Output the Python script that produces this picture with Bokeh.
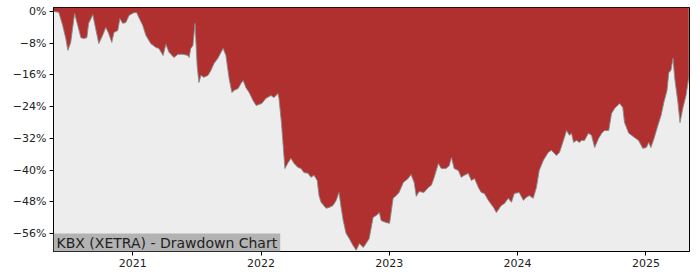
import pandas as pd
from bokeh.plotting import figure
from bokeh.models import Range1d, FixedTicker, CustomJSTickFormatter, DatetimeTickFormatter, Label
from bokeh.embed import file_html
from bokeh.resources import INLINE

title_text = "KBX (XETRA) - Drawdown Chart"

dates = [
    "2020-05-21", "2020-06-04", "2020-06-15", "2020-06-24", "2020-06-30", "2020-07-08", "2020-07-19",
    "2020-07-28", "2020-08-06", "2020-08-14", "2020-08-23", "2020-08-28", "2020-09-09", "2020-09-17",
    "2020-09-26", "2020-10-07", "2020-10-16", "2020-10-24", "2020-11-02", "2020-11-08", "2020-11-19",
    "2020-11-25", "2020-12-03", "2020-12-12", "2020-12-21",
    "2021-01-04", "2021-01-12", "2021-01-18", "2021-01-29", "2021-02-07", "2021-02-21", "2021-03-08",
    "2021-03-16", "2021-03-28", "2021-04-05", "2021-04-14", "2021-04-28", "2021-05-09", "2021-05-24",
    "2021-06-07", "2021-06-10", "2021-06-15", "2021-06-21", "2021-06-27", "2021-07-03", "2021-07-08",
    "2021-07-14", "2021-07-22", "2021-08-03", "2021-08-11", "2021-08-20", "2021-08-31", "2021-09-15",
    "2021-09-23", "2021-10-02", "2021-10-10", "2021-10-16", "2021-10-28", "2021-11-05", "2021-11-11",
    "2021-11-19", "2021-11-28", "2021-12-09", "2021-12-18",
    "2022-01-03", "2022-01-15", "2022-01-29", "2022-02-07", "2022-02-18", "2022-02-21", "2022-02-28",
    "2022-03-05", "2022-03-10", "2022-03-19", "2022-03-27", "2022-04-05", "2022-04-16", "2022-04-25",
    "2022-05-03", "2022-05-15", "2022-05-23", "2022-06-01", "2022-06-10", "2022-06-15", "2022-06-21",
    "2022-07-05", "2022-07-14", "2022-07-25", "2022-08-03", "2022-08-11", "2022-08-17", "2022-08-23",
    "2022-08-31", "2022-09-09", "2022-09-20", "2022-09-29", "2022-10-08", "2022-10-19", "2022-10-27",
    "2022-11-05", "2022-11-16", "2022-11-25", "2022-12-04", "2022-12-09", "2022-12-23",
    "2023-01-02", "2023-01-12", "2023-01-21", "2023-01-29", "2023-02-10", "2023-02-24", "2023-03-04",
    "2023-03-13", "2023-03-19", "2023-03-27", "2023-04-10", "2023-04-22", "2023-05-01", "2023-05-09",
    "2023-05-21", "2023-05-29", "2023-06-12", "2023-06-21", "2023-06-27", "2023-07-05", "2023-07-17",
    "2023-07-25", "2023-08-03", "2023-08-14", "2023-08-23", "2023-09-01", "2023-09-12", "2023-09-20",
    "2023-09-29", "2023-10-10", "2023-10-25", "2023-11-02", "2023-11-16", "2023-11-25", "2023-12-06",
    "2023-12-15", "2023-12-23",
    "2024-01-06", "2024-01-18", "2024-01-26", "2024-02-04", "2024-02-15", "2024-02-24", "2024-03-03",
    "2024-03-15", "2024-03-29", "2024-04-07", "2024-04-21", "2024-04-30", "2024-05-11", "2024-05-20",
    "2024-05-28", "2024-06-03", "2024-06-09", "2024-06-17", "2024-06-26", "2024-07-01", "2024-07-10",
    "2024-07-21", "2024-07-30", "2024-08-08", "2024-08-19", "2024-08-28", "2024-09-05", "2024-09-17",
    "2024-09-25", "2024-10-04", "2024-10-18", "2024-10-27", "2024-11-01", "2024-11-13", "2024-11-21",
    "2024-11-30", "2024-12-11", "2024-12-23",
    "2025-01-02", "2025-01-09", "2025-01-15", "2025-01-24", "2025-02-04", "2025-02-13", "2025-02-21",
    "2025-03-02", "2025-03-07", "2025-03-13", "2025-03-19", "2025-03-24", "2025-04-02", "2025-04-08",
    "2025-04-16", "2025-04-25", "2025-05-03",
]

drawdown = [
    0.0, -0.2, -3.5, -6.8, -9.8, -7.8, -0.5,
    -3.5, -6.6, -6.8, -6.6, -3.0, -0.8, -4.3,
    -8.1, -6.0, -4.0, -5.5, -7.8, -5.3, -4.8,
    -1.8, -3.0, -2.8, -1.0,
    -0.3, -0.3, -1.5, -3.5, -6.0, -8.1, -9.1,
    -9.3, -11.1, -8.3, -10.3, -11.6, -10.8, -10.8,
    -11.1, -11.6, -9.3, -8.6, -3.0, -13.6, -17.9,
    -16.1, -16.6, -16.1, -14.9, -13.1, -11.8, -9.3,
    -11.1, -16.9, -20.4, -19.9, -19.4, -18.1, -17.4,
    -19.2, -20.4, -22.4, -23.7,
    -23.2, -21.9, -21.2, -21.7, -20.7, -21.9, -28.0,
    -33.8, -39.6, -38.1, -37.0, -38.3, -39.3, -39.6,
    -40.6, -40.8, -41.8, -41.3, -42.6, -46.4, -48.1,
    -49.6, -49.4, -48.9, -47.6, -45.6, -49.4, -52.7,
    -55.9, -57.2, -59.0, -60.2, -58.5, -59.5, -58.5,
    -57.2, -51.9, -51.4, -50.7, -52.7, -53.2,
    -53.4, -47.1, -46.4, -45.6, -43.1, -42.1, -41.1,
    -43.1, -46.6, -45.4, -45.6, -44.4, -43.8, -41.8,
    -38.3, -39.6, -39.6, -38.8, -36.8, -39.6, -40.1,
    -41.8, -41.3, -40.8, -42.6, -42.1, -44.4, -45.6,
    -45.9, -47.6, -49.4, -50.7, -48.9, -48.4, -47.1,
    -48.1, -45.9,
    -45.6, -47.6, -46.9, -46.4, -47.1, -44.4, -40.1,
    -37.5, -35.5, -35.0, -36.3, -35.5, -32.5, -30.0,
    -31.2, -30.7, -33.0, -32.5, -33.0, -32.5, -32.5,
    -30.7, -31.2, -34.3, -32.0, -30.7, -30.0, -30.0,
    -25.7, -24.4, -23.2, -24.2, -28.0, -30.7, -31.2,
    -31.8, -32.5, -34.5,
    -34.3, -33.0, -34.3, -32.0, -28.7, -26.2, -22.9,
    -19.9, -15.4, -14.9, -11.8, -16.9, -22.9, -28.0,
    -24.4, -21.2, -16.6,
]

y_ticks = [0, -8, -16, -24, -32, -40, -48, -56]
x_tick_years = [2021, 2022, 2023, 2024, 2025]
x_start, x_end = "2020-05-20", "2025-05-05"
y_bottom, y_top = -60.5, 1.0

x = pd.to_datetime(dates)

p = figure(width=700, height=280, x_axis_type="datetime",
           output_backend="svg", toolbar_location=None,
           x_range=Range1d(pd.Timestamp(x_start), pd.Timestamp(x_end)),
           y_range=Range1d(y_bottom, y_top),
           min_border_left=53, min_border_right=11, min_border_top=7, min_border_bottom=29)

p.background_fill_color = "#ededed"
p.border_fill_color = "white"
p.outline_line_color = "black"
p.outline_line_width = 1
p.xgrid.visible = False
p.ygrid.visible = False

p.varea(x=x, y1=[y_top] * len(drawdown), y2=drawdown, fill_color="#b03030", fill_alpha=1.0)
p.line(x=x, y=drawdown, line_color="#8a8a8a", line_width=1, line_alpha=0.9)

p.yaxis.ticker = FixedTicker(ticks=y_ticks)
p.yaxis.formatter = CustomJSTickFormatter(code="""
    return (tick < 0 ? "\\u2212" + Math.abs(tick) : String(tick)) + "%";
""")
p.xaxis.ticker = FixedTicker(ticks=[pd.Timestamp(f"{yr}-01-01").value / 1e6 for yr in x_tick_years])
p.xaxis.formatter = DatetimeTickFormatter(years="%Y", months="%Y", days="%Y", hours="%Y",
                                          hourmin="%Y", minutes="%Y", minsec="%Y", seconds="%Y",
                                          milliseconds="%Y", microseconds="%Y", context=None)

for ax in (p.xaxis[0], p.yaxis[0]):
    ax.axis_line_color = "black"
    ax.axis_line_width = 1
    ax.major_tick_line_color = "black"
    ax.major_tick_out = 4
    ax.major_tick_in = 0
    ax.minor_tick_line_color = None
    ax.major_label_text_font = "DejaVu Sans"
    ax.major_label_text_font_size = "11px"
    ax.major_label_text_color = "#222222"
    ax.major_label_standoff = 3

lbl = Label(x=pd.Timestamp(x_start), y=y_bottom, x_units="data", y_units="data",
            text=title_text, text_font="DejaVu Sans", text_font_size="14px",
            text_color="#222222", background_fill_color="#b3b3b3", background_fill_alpha=1.0,
            padding=dict(left=3, right=3, top=1, bottom=1),
            text_baseline="bottom", text_align="left")
p.add_layout(lbl)

open("out.html", "w").write(file_html(p, INLINE))
